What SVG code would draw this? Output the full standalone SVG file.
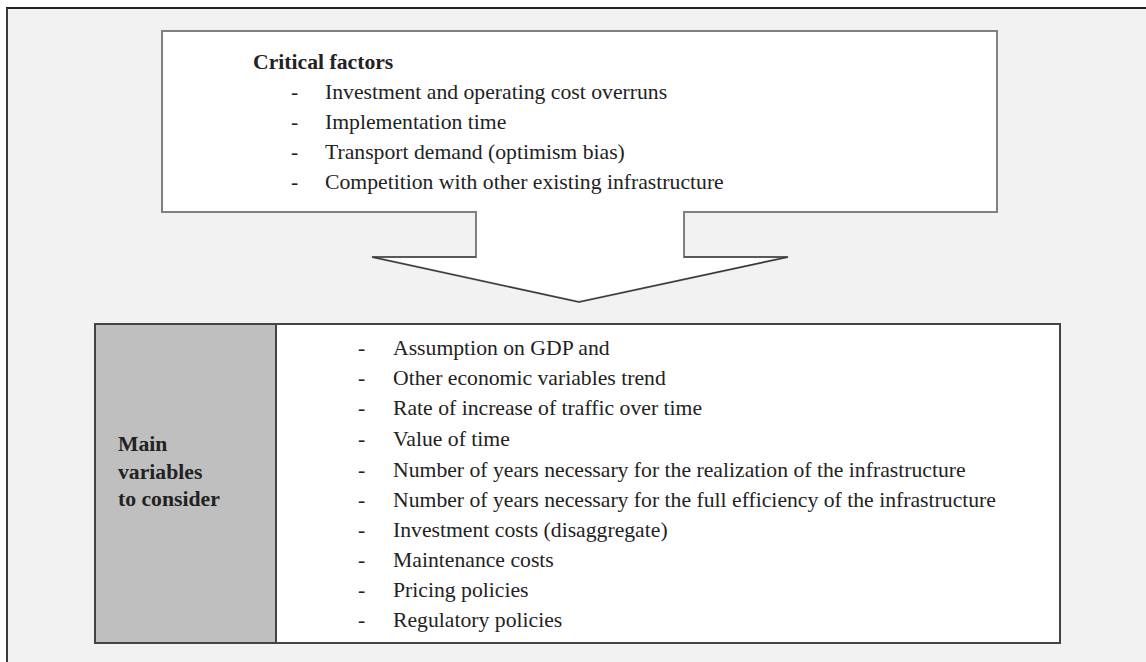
<svg xmlns="http://www.w3.org/2000/svg" width="1146" height="662" viewBox="0 0 1146 662">
  <style>
    .txt { font-family: "Liberation Serif", "Times New Roman", serif; font-size: 21.7px; fill: #222222; }
    .bold { font-weight: bold; }
    .frame { fill: #f2f2f2; stroke: none; }
    .arrowbox { fill: #ffffff; stroke: #808080; stroke-width: 2; stroke-linejoin: miter; }
    .head { fill: none; stroke: #333333; stroke-width: 1.2; }
    .table { stroke: #444444; stroke-width: 2; }
  </style>

  <!-- page background and frame -->
  <rect x="0" y="0" width="1146" height="662" fill="#ffffff"/>
  <rect class="frame" x="7" y="8" width="1139" height="654"/>
  <line x1="6" y1="8" x2="1146" y2="8" stroke="#222222" stroke-width="2"/>
  <line x1="7" y1="8" x2="7" y2="662" stroke="#3a3a3a" stroke-width="2"/>

  <!-- critical factors box with downward block arrow -->
  <g id="critical-factors">
    <path class="arrowbox" d="M162,31 H997 V212 H684 V257 H788 L579,302 L372,257 H476 V212 H162 Z"/>
    <path class="head" d="M684,257 H788 L579,302 L372,257 H476"/>
    <text class="txt bold" x="253" y="69">Critical factors</text>
    <g class="txt">
      <text x="291" y="99">-</text><text x="325" y="99">Investment and operating cost overruns</text>
      <text x="291" y="129">-</text><text x="325" y="129">Implementation time</text>
      <text x="291" y="159">-</text><text x="325" y="159">Transport demand (optimism bias)</text>
      <text x="291" y="189">-</text><text x="325" y="189">Competition with other existing infrastructure</text>
    </g>
  </g>

  <!-- main variables table -->
  <g id="main-variables">
    <rect class="table" x="95" y="324" width="965" height="319" fill="#ffffff"/>
    <rect class="table" x="95" y="324" width="181" height="319" fill="#bfbfbf"/>
    <g class="txt bold">
      <text x="118" y="451">Main</text>
      <text x="118" y="479">variables</text>
      <text x="118" y="506">to consider</text>
    </g>
    <g class="txt">
      <text x="358" y="355">-</text><text x="393" y="355">Assumption on GDP and</text>
      <text x="358" y="385">-</text><text x="393" y="385">Other economic variables trend</text>
      <text x="358" y="415">-</text><text x="393" y="415">Rate of increase of traffic over time</text>
      <text x="358" y="446">-</text><text x="393" y="446">Value of time</text>
      <text x="358" y="477">-</text><text x="393" y="477">Number of years necessary for the realization of the infrastructure</text>
      <text x="358" y="507">-</text><text x="393" y="507">Number of years necessary for the full efficiency of the infrastructure</text>
      <text x="358" y="537">-</text><text x="393" y="537">Investment costs (disaggregate)</text>
      <text x="358" y="567">-</text><text x="393" y="567">Maintenance costs</text>
      <text x="358" y="597">-</text><text x="393" y="597">Pricing policies</text>
      <text x="358" y="627">-</text><text x="393" y="627">Regulatory policies</text>
    </g>
  </g>
</svg>
